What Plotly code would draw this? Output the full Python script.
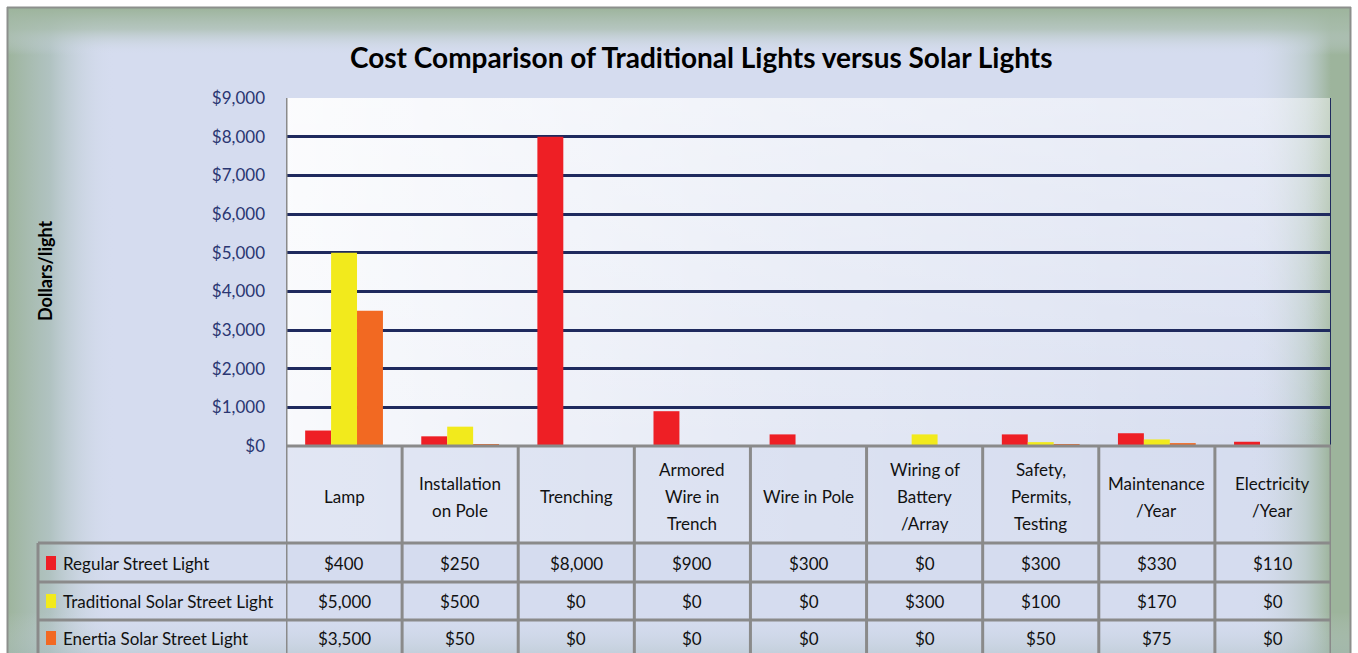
import plotly.graph_objects as go

# ---------------- data ----------------
categories = ["Lamp", "Installation<br>on Pole", "Trenching", "Armored<br>Wire in<br>Trench",
              "Wire in Pole", "Wiring of<br>Battery<br>/Array", "Safety,<br>Permits,<br>Testing",
              "Maintenance<br>/Year", "Electricity<br>/Year"]
series_names = ["Regular Street Light", "Traditional Solar Street Light", "Enertia Solar Street Light"]
regular = [400, 250, 8000, 900, 300, 0, 300, 330, 110]
traditional = [5000, 500, 0, 0, 0, 300, 100, 170, 0]
enertia = [3500, 50, 0, 0, 0, 0, 50, 75, 0]
series_values = [regular, traditional, enertia]
series_colors = ["#ee1f25", "#f2ea1c", "#f26922"]
tick_values = [0, 1000, 2000, 3000, 4000, 5000, 6000, 7000, 8000, 9000]
tick_labels = ["$0", "$1,000", "$2,000", "$3,000", "$4,000", "$5,000", "$6,000", "$7,000", "$8,000", "$9,000"]
title = "Cost Comparison of Traditional Lights versus Solar Lights"
y_title = "Dollars/light"

# ---------------- layout geometry (pixels) ----------------
W, H = 1358, 653
PL, PR, PT, PB = 286, 1331, 98, 446          # plot area
HEAD_B = 543                                  # bottom of header row
ROW_B = [582, 620, 658]                       # bottoms of data rows
ROW_T = [543, 582, 620]
LEG_L = 38
FONT = "Lato"
GREEN = "#9db49c"
LAV = "#d5dcef"
GRID = "#8a8a8a"
NAVY = "#1f2a5e"


def px(x):
    return x / W


def py(y):
    return 1 - y / H


fig = go.Figure()

# ---------------- background (decorative) on full-page axes ----------------
def grad_rect(x0, y0, x1, y1, orient, cs):
    fig.add_trace(go.Scatter(
        x=[x0, x1, x1, x0, x0], y=[H - y0, H - y0, H - y1, H - y1, H - y0],
        fill="toself", mode="none", hoverinfo="skip", showlegend=False,
        fillcolor=cs[0][1] if orient is None else None,
        fillgradient=None if orient is None else dict(type=orient, colorscale=cs),
        xaxis="x", yaxis="y"))

grad_rect(7, 8, 1351, H + 5, None, [[0, LAV], [1, LAV]])
grad_rect(7, 8, 115, H + 5, "horizontal", [[0, GREEN], [0.4, "rgba(170,190,185,0.85)"], [1, "rgba(213,220,239,0)"]])
grad_rect(1250, 8, 1351, H + 5, "horizontal", [[0, "rgba(213,220,239,0)"], [0.55, "rgba(175,195,185,0.6)"], [0.8, GREEN], [1, GREEN]])
grad_rect(7, 8, 1351, 55, "vertical", [[0, "rgba(213,220,239,0)"], [0.55, "rgba(170,190,175,0.75)"], [1, GREEN]])
grad_rect(7, 612, 1351, H + 5, "vertical", [[0, "rgba(165,185,185,0.45)"], [1, "rgba(213,220,239,0)"]])
grad_rect(PL, PT, PR, PB, "horizontal", [[0, "rgba(255,255,255,0.85)"], [0.5, "rgba(255,255,255,0.35)"], [1, "rgba(255,255,255,0)"]])
grad_rect(PL, PT, PR, PB, "vertical", [[0, "rgba(255,255,255,0)"], [1, "rgba(255,255,255,0.45)"]])
grad_rect(PL, PB, PR, HEAD_B, "horizontal", [[0, "rgba(255,255,255,0.3)"], [1, "rgba(255,255,255,0)"]])

# ---------------- bars ----------------
for name, vals, col in zip(series_names, series_values, series_colors):
    fig.add_trace(go.Bar(x=categories, y=vals, name=name, marker=dict(color=col, line=dict(width=0)),
                         xaxis="x2", yaxis="y2", showlegend=False))

# ---------------- table (shapes + text) ----------------
shapes = []
annotations = []
n = len(categories)

# outer chart frame
for (x0, y0, x1, y1) in [(7, 7.5, 1351, 7.5), (7.5, 7, 7.5, H + 5), (1350.5, 7, 1350.5, H + 5)]:
    shapes.append(dict(type="line", xref="paper", yref="paper", x0=px(x0), x1=px(x1), y0=py(y0), y1=py(y1),
                       line=dict(color="#8c8f8c", width=2), layer="above"))

for i in range(n + 1):
    shapes.append(dict(type="line", xref="x2", yref="paper", x0=i - 0.5, x1=i - 0.5,
                       y0=py(PB), y1=py(H + 5), line=dict(color=GRID, width=3), layer="above"))
shapes.append(dict(type="line", xref="x2", yref="paper", x0=-0.5, x1=-0.5, y0=py(PT), y1=py(PB),
                   line=dict(color=GRID, width=3), layer="above"))
shapes.append(dict(type="line", xref="x2", yref="paper", x0=n - 0.5, x1=n - 0.5, y0=py(PT), y1=py(PB),
                   line=dict(color=NAVY, width=2), layer="above"))
shapes.append(dict(type="line", xref="paper", yref="paper", x0=px(LEG_L), x1=px(LEG_L),
                   y0=py(HEAD_B), y1=py(H + 5), line=dict(color=GRID, width=3), layer="above"))
shapes.append(dict(type="line", xref="x2", yref="paper", x0=-0.5, x1=n - 0.5, y0=py(PB), y1=py(PB),
                   line=dict(color=GRID, width=3), layer="above"))
for yb in [HEAD_B] + ROW_B[:-1]:
    shapes.append(dict(type="line", xref="paper", yref="paper",
                       x0=px(LEG_L), x1=px(PR), y0=py(yb), y1=py(yb),
                       line=dict(color=GRID, width=3), layer="above"))

head_c = (PB + HEAD_B) / 2 + 2
LINE = 27
for i, cat in enumerate(categories):
    lines = cat.split("<br>")
    k = len(lines)
    for j, ln in enumerate(lines):
        yc = head_c + (j - (k - 1) / 2) * LINE
        annotations.append(dict(text=ln, xref="x2", yref="paper", x=i, y=py(yc), showarrow=False,
                                xanchor="center", yanchor="middle",
                                font=dict(family=FONT, size=17, color="#111111")))

row_c = [563, 601, 638]
for r, (name, vals, col) in enumerate(zip(series_names, series_values, series_colors)):
    yc = row_c[r]
    shapes.append(dict(type="rect", xref="paper", yref="paper", x0=px(46), x1=px(56),
                       y0=py(yc - 7), y1=py(yc + 7), fillcolor=col, line=dict(width=0), layer="above"))
    annotations.append(dict(text=name, xref="paper", yref="paper", x=px(61), y=py(yc), showarrow=False,
                            xanchor="left", yanchor="middle",
                            font=dict(family=FONT, size=17, color="#111111")))
    for i, v in enumerate(vals):
        annotations.append(dict(text=f"${v:,}", xref="x2", yref="paper", x=i, y=py(yc), showarrow=False,
                                xanchor="center", yanchor="middle",
                                font=dict(family=FONT, size=17, color="#111111")))

annotations.append(dict(text=f"<b>{title}</b>", xref="paper", yref="paper", x=px(701), y=py(57),
                        showarrow=False, xanchor="center", yanchor="middle",
                        font=dict(family=FONT, size=28, color="#000000")))
annotations.append(dict(text=f"<b>{y_title}</b>", xref="paper", yref="paper", x=px(45), y=py(271),
                        showarrow=False, xanchor="center", yanchor="middle", textangle=-90,
                        font=dict(family=FONT, size=18, color="#000000")))

fig.update_layout(
    template="none",
    width=W, height=H,
    margin=dict(l=0, r=0, t=0, b=0, pad=0, autoexpand=False),
    paper_bgcolor="#ffffff",
    plot_bgcolor="rgba(0,0,0,0)",
    barmode="group", bargap=0.33, bargroupgap=0,
    showlegend=False,
    xaxis=dict(domain=[0, 1], range=[0, W], visible=False, fixedrange=True, automargin=False),
    yaxis=dict(domain=[0, 1], range=[0, H], visible=False, fixedrange=True, automargin=False),
    xaxis2=dict(domain=[px(PL), px(PR)], anchor="y2", type="category", range=[-0.5, n - 0.5],
                showticklabels=False, showgrid=False, zeroline=False, showline=False, ticks="",
                automargin=False),
    yaxis2=dict(domain=[py(PB), py(PT)], anchor="x2", range=[0, 9000], automargin=False,
                tickvals=tick_values, ticktext=tick_labels, showgrid=True, gridcolor=NAVY, gridwidth=3,
                zeroline=False, showline=False, ticks="", ticklabelstandoff=20,
                tickfont=dict(family=FONT, size=17, color="#2a3672")),
    shapes=shapes,
    annotations=annotations,
)

fig.write_html("out.html", config={"displayModeBar": False},
               post_script="document.body.style.margin='0';document.body.style.overflow='hidden';")
